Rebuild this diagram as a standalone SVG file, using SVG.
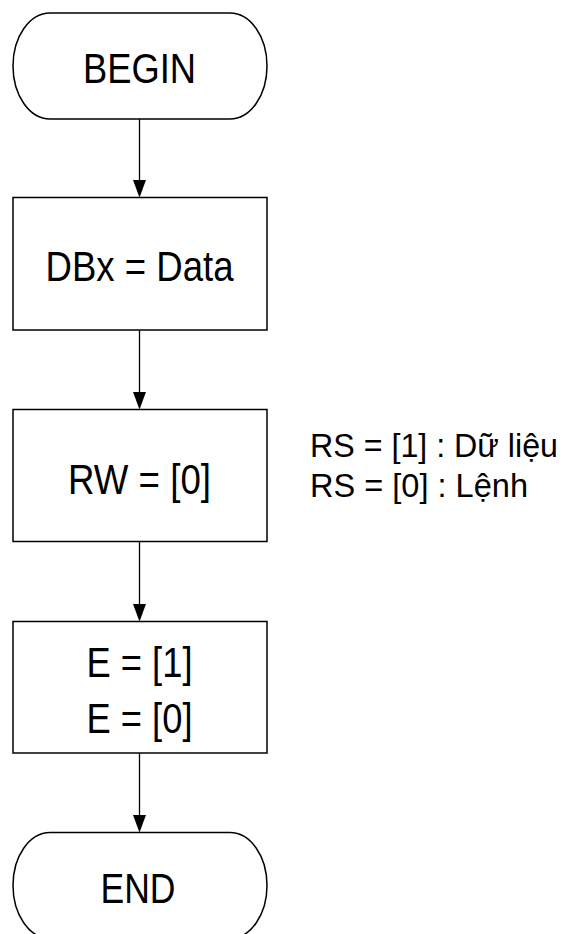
<svg xmlns="http://www.w3.org/2000/svg" width="566" height="934" viewBox="0 0 566 934">
  <style>
    .shape { fill: #ffffff; stroke: #000000; stroke-width: 1.5; }
    .flow { stroke: #000000; stroke-width: 1.3; fill: none; }
    .head { fill: #000000; stroke: none; }
    .lbl { font-family: "Liberation Sans", Arial, sans-serif; font-size: 43px; fill: #000000; text-anchor: middle; }
    .note { font-family: "Liberation Sans", Arial, sans-serif; font-size: 34px; fill: #000000; }
  </style>
  <rect width="566" height="934" fill="#ffffff"/>

  <!-- connectors -->
  <g id="connectors">
    <line class="flow" x1="139.5" y1="119" x2="139.5" y2="182"/>
    <polygon class="head" points="133,180 146,180 139.5,197.5"/>
    <line class="flow" x1="139.5" y1="330" x2="139.5" y2="394"/>
    <polygon class="head" points="133,392 146,392 139.5,409.5"/>
    <line class="flow" x1="139.5" y1="542" x2="139.5" y2="606"/>
    <polygon class="head" points="133,604 146,604 139.5,621.5"/>
    <line class="flow" x1="139.5" y1="753" x2="139.5" y2="817"/>
    <polygon class="head" points="133,815 146,815 139.5,832.5"/>
  </g>

  <g id="begin">
    <rect class="shape" x="13" y="13" width="254" height="106" rx="37" ry="53"/>
    <text class="lbl" x="139.5" y="83" textLength="113" lengthAdjust="spacingAndGlyphs">BEGIN</text>
  </g>

  <g id="set-data">
    <rect class="shape" x="13" y="197.5" width="254" height="132.5"/>
    <text class="lbl" x="139.5" y="281" textLength="188" lengthAdjust="spacingAndGlyphs">DBx = Data</text>
  </g>

  <g id="set-rw">
    <rect class="shape" x="13" y="409.5" width="254" height="132"/>
    <text class="lbl" x="139.5" y="494" textLength="143" lengthAdjust="spacingAndGlyphs">RW = [0]</text>
  </g>

  <g id="rs-note">
    <text class="note" x="310" y="457" textLength="248" lengthAdjust="spacingAndGlyphs">RS = [1] : Dữ liệu</text>
    <text class="note" x="310" y="497" textLength="218" lengthAdjust="spacingAndGlyphs">RS = [0] : Lệnh</text>
  </g>

  <g id="pulse-e">
    <rect class="shape" x="13" y="621.5" width="254" height="131.5"/>
    <text class="lbl" x="139.5" y="677" textLength="106" lengthAdjust="spacingAndGlyphs">E = [1]</text>
    <text class="lbl" x="139.5" y="733" textLength="106" lengthAdjust="spacingAndGlyphs">E = [0]</text>
  </g>

  <g id="end">
    <rect class="shape" x="13" y="832.5" width="254" height="106" rx="37" ry="53"/>
    <text class="lbl" x="138" y="903" textLength="75" lengthAdjust="spacingAndGlyphs">END</text>
  </g>
</svg>
